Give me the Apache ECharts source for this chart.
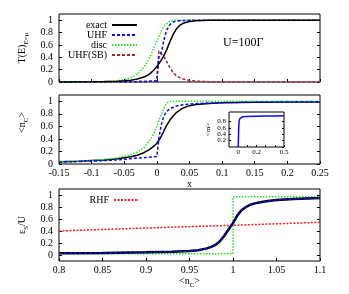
<!DOCTYPE html>
<html><head><meta charset="utf-8">
<script src="https://cdn.jsdelivr.net/npm/echarts@6/dist/echarts.min.js"></script>
<style>html,body{margin:0;padding:0;background:#fff}#c{width:349px;height:294px}</style>
</head><body><div id="c"></div>
<script>
// ---- data: panels 1 and 2 share the x grid ----
const xs = [-0.15,-0.12,-0.1,-0.08,-0.06,-0.05,-0.04,-0.03,-0.02,-0.015,-0.01,-0.005,0,0.002,0.003,0.005,0.0075,0.01,0.0125,0.015,0.02,0.025,0.03,0.035,0.04,0.05,0.06,0.08,0.1,0.15,0.2,0.25];
// panel 1: T(E)
const exactT = [0,0.002,0.004,0.007,0.013,0.02,0.03,0.05,0.08,0.105,0.14,0.19,0.25,0.28,0.295,0.32,0.365,0.41,0.465,0.52,0.65,0.77,0.86,0.915,0.95,0.98,0.99,0.997,0.999,1,1,1];
const uhfT   = [0,0.001,0.001,0.002,0.003,0.003,0.005,0.006,0.008,0.01,0.012,0.015,0.018,0.02,0.4,0.42,0.5,0.64,0.75,0.84,0.93,0.97,0.985,0.99,0.993,0.997,0.999,1,1,1,1,1];
const discT  = [0,0.001,0.003,0.007,0.02,0.04,0.07,0.13,0.24,0.32,0.42,0.54,0.66,0.71,0.73,0.78,0.84,0.88,0.92,0.95,0.985,0.997,1,1,1,1,1,1,1,1,1,1];
const sbT    = [0,0.001,0.001,0.002,0.003,0.003,0.005,0.006,0.008,0.01,0.012,0.015,0.018,0.02,0.5,0.48,0.45,0.42,0.38,0.33,0.23,0.15,0.1,0.07,0.05,0.025,0.013,0.005,0.002,0,0,0];
// panel 2: <n_C>
const exactN = [0.035,0.045,0.055,0.065,0.085,0.1,0.115,0.14,0.18,0.21,0.24,0.28,0.33,0.36,0.375,0.41,0.46,0.51,0.565,0.615,0.7,0.765,0.82,0.86,0.89,0.93,0.95,0.965,0.975,0.985,0.99,0.99];
const uhfN   = [0.03,0.04,0.045,0.055,0.065,0.075,0.085,0.095,0.1,0.105,0.11,0.115,0.12,0.12,0.4,0.53,0.65,0.74,0.8,0.84,0.88,0.905,0.925,0.935,0.945,0.955,0.963,0.972,0.978,0.986,0.99,0.992];
const discN  = [0.035,0.045,0.055,0.075,0.1,0.13,0.15,0.19,0.26,0.32,0.39,0.48,0.6,0.66,0.69,0.75,0.81,0.87,0.93,0.97,1,1,1,1,1,1,1,1,1,1,1,1];
// inset: <m>
const mX = [0,0.005,0.01,0.02,0.03,0.05,0.08,0.1,0.2,0.3,0.4,0.5];
const mY = [0,0.5,0.82,0.9,0.93,0.95,0.96,0.965,0.97,0.975,0.978,0.98];
// panel 3: eps_S/U
const xs3    = [0.8,0.85,0.9,0.93,0.95,0.96,0.97,0.975,0.98,0.985,0.99,0.995,1.0,1.005,1.01,1.015,1.02,1.025,1.03,1.04,1.05,1.07,1.1];
const exactS = [0.03,0.035,0.045,0.055,0.065,0.08,0.11,0.135,0.17,0.23,0.32,0.43,0.53,0.66,0.75,0.8,0.84,0.86,0.875,0.9,0.915,0.935,0.95];
const uhfS   = [0.03,0.035,0.045,0.055,0.065,0.08,0.11,0.135,0.17,0.23,0.32,0.43,0.53,0.66,0.75,0.8,0.84,0.86,0.875,0.9,0.915,0.935,0.95];
const discSx = [0.8,1.0,1.0,1.1];
const discSy = [0.02,0.02,0.97,0.97];
const rhfX   = [0.8,0.9,1.0,1.1];
const rhfY   = [0.4,0.45,0.495,0.545];
// tick labels
const tickY   = [0,0.2,0.4,0.6,0.8,1];
const tickX12 = [-0.15,-0.1,-0.05,0,0.05,0.1,0.15,0.2,0.25];
const tickX3  = [0.8,0.85,0.9,0.95,1,1.05,1.1];
const tickXin = [0,0.2,0.5];
const tickXinT= [0,0.1,0.2,0.3,0.4,0.5];

const F = 'Liberation Serif';
const pairs = (a,b)=>a.map((x,i)=>[x,b[i]]);
const rich = (fs)=>({m:{fontFamily:F,fontSize:fs,color:'#000',lineHeight:fs+5},s:{fontFamily:F,fontSize:Math.round(fs*0.7),color:'#000',verticalAlign:'bottom'}});

const C = {black:'#000000', blue:'#0a0aff', green:'#22e622', dred:'#a82828', red:'#ff1a1a'};

function xAx(g,min,max,ticks,labels,lab){
  return Object.assign({type:'value',gridIndex:g,min,max,axisLine:{show:false,onZero:false},splitLine:{show:false},
    axisTick:{show:true,inside:true,length:3,customValues:ticks,lineStyle:{color:'#000',width:1}},
    axisLabel:{show:!!labels,customValues:labels||ticks,fontFamily:F,fontSize:10,color:'#000',margin:4}},lab||{});
}
function yAx(g,min,max,ticks,showLab,pos,lab){
  return Object.assign({type:'value',gridIndex:g,min,max,position:pos,axisLine:{show:false,onZero:false},splitLine:{show:false},
    axisTick:{show:true,inside:true,length:3,customValues:ticks,lineStyle:{color:'#000',width:1}},
    axisLabel:{show:showLab,customValues:ticks,fontFamily:F,fontSize:10,color:'#000',margin:6}},lab||{});
}
const legendBase = {orient:'vertical',align:'right',itemWidth:25,itemHeight:9,itemGap:0,padding:0,selectedMode:false,
  itemStyle:{opacity:0,color:'rgba(0,0,0,0)',borderColor:'rgba(0,0,0,0)',borderWidth:0},
  textStyle:{fontFamily:F,fontSize:10,color:'#000',lineHeight:9}};

const gridBase = {show:true,borderColor:'#000',borderWidth:1,backgroundColor:'#fff'};
const option = {
  animation:false,
  backgroundColor:'#fff',
  grid:[
    Object.assign({left:59,top:14,width:261,height:68},gridBase),
    Object.assign({left:59,top:95,width:261,height:69},gridBase),
    Object.assign({left:59,top:189,width:261,height:72},gridBase),
    Object.assign({left:229,top:112,width:55,height:35,z:5},gridBase)
  ],
  xAxis:[
    xAx(0,-0.15,0.25,tickX12,null),
    xAx(1,-0.15,0.25,tickX12,tickX12,{name:'x',nameLocation:'middle',nameGap:15,nameTextStyle:{fontFamily:F,fontSize:10,color:'#000'}}),
    xAx(2,0.8,1.1,tickX3,tickX3,{name:'{m|<n}{s|C}{m|>}',nameLocation:'middle',nameGap:13,nameTextStyle:{rich:rich(10)}}),
    Object.assign(xAx(3,-0.1,0.5,tickXinT,tickXin),{axisTick:{show:true,inside:true,length:2,customValues:tickXinT,lineStyle:{color:'#000'}},axisLabel:{show:true,customValues:tickXin,fontFamily:F,fontSize:7,color:'#000',margin:2},z:5})
  ],
  yAxis:[
    yAx(0,0,1.1,tickY,true,'left',{name:'{m|T(E)}{s|E=μ}',nameLocation:'middle',nameGap:26,nameTextStyle:{rich:rich(10)}}),
    yAx(0,0,1.1,tickY,false,'right'),
    yAx(1,0,1.1,tickY,true,'left',{name:'{m|<n}{s|C}{m|>}',nameLocation:'middle',nameGap:26,nameTextStyle:{rich:rich(10),padding:[0,0,0,14]}}),
    yAx(1,0,1.1,tickY,false,'right'),
    yAx(2,-0.1,1.1,tickY,true,'left',{name:'{m|ε}{s|S}{m|/U}',nameLocation:'middle',nameGap:26,nameTextStyle:{rich:rich(10)}}),
    yAx(2,-0.1,1.1,tickY,false,'right'),
    Object.assign(yAx(3,0,1.1,tickY,true,'left',{name:'<m>',nameLocation:'middle',nameGap:17,nameTextStyle:{fontFamily:F,fontSize:7,color:'#000'}}),{axisLabel:{show:true,customValues:tickY,fontFamily:F,fontSize:7,color:'#000',margin:3},axisTick:{show:true,inside:true,length:2,customValues:tickY,lineStyle:{color:'#000'}},z:5}),
    Object.assign(yAx(3,0,1.1,tickY,false,'right'),{axisTick:{show:true,inside:true,length:2,customValues:tickY,lineStyle:{color:'#000'}},z:5})
  ],
  legend:[
    Object.assign({data:['exact','UHF','disc','UHF(SB)'],right:211,top:20},legendBase),
    Object.assign({data:['RHF'],right:209,top:195},legendBase)
  ],
  graphic:[{type:'text',left:223,top:37,style:{text:'U=100Γ',font:'12px "Liberation Serif"',fill:'#000'}}],
  series:[
    {name:'UHF(SB)',type:'line',xAxisIndex:0,yAxisIndex:0,data:pairs(xs,sbT),symbol:'none',lineStyle:{color:C.dred,width:1.5,type:[3,2]},itemStyle:{color:C.dred}},
    {name:'disc',type:'line',xAxisIndex:0,yAxisIndex:0,data:pairs(xs,discT),symbol:'none',lineStyle:{color:C.green,width:1.5,type:[1.5,1.5]},itemStyle:{color:C.green}},
    {name:'UHF',type:'line',xAxisIndex:0,yAxisIndex:0,data:pairs(xs,uhfT),symbol:'none',lineStyle:{color:C.blue,width:1.5,type:[3,2]},itemStyle:{color:C.blue}},
    {name:'exact',type:'line',xAxisIndex:0,yAxisIndex:0,data:pairs(xs,exactT),symbol:'none',lineStyle:{color:C.black,width:1.5},itemStyle:{color:C.black}},

    {name:'exactN',type:'line',xAxisIndex:1,yAxisIndex:2,data:pairs(xs,exactN),symbol:'none',lineStyle:{color:C.black,width:1.5}},
    {name:'discN',type:'line',xAxisIndex:1,yAxisIndex:2,data:pairs(xs,discN),symbol:'none',lineStyle:{color:C.green,width:1.5,type:[1.5,1.5]}},
    {name:'uhfN',type:'line',xAxisIndex:1,yAxisIndex:2,data:pairs(xs,uhfN),symbol:'none',lineStyle:{color:C.blue,width:1.5,type:[3,2]}},

    {name:'m',type:'line',xAxisIndex:3,yAxisIndex:6,data:pairs(mX,mY),symbol:'none',z:6,lineStyle:{color:C.blue,width:1.5}},

    {name:'RHF',type:'line',xAxisIndex:2,yAxisIndex:4,data:pairs(rhfX,rhfY),symbol:'none',lineStyle:{color:C.red,width:1.5,type:[2,1.5]},itemStyle:{color:C.red}},
    {name:'discS',type:'line',xAxisIndex:2,yAxisIndex:4,data:pairs(discSx,discSy),symbol:'none',lineStyle:{color:C.green,width:1.5,type:[1.5,1.5]}},
    {name:'exactS',type:'line',xAxisIndex:2,yAxisIndex:4,data:pairs(xs3,exactS),symbol:'none',lineStyle:{color:C.black,width:2.5}},
    {name:'uhfS',type:'line',xAxisIndex:2,yAxisIndex:4,data:pairs(xs3,uhfS),symbol:'none',lineStyle:{color:C.blue,width:1.5,type:[3,2]}}
  ]
};
const chart = echarts.init(document.getElementById('c'));
chart.setOption(option);
</script></body></html>
